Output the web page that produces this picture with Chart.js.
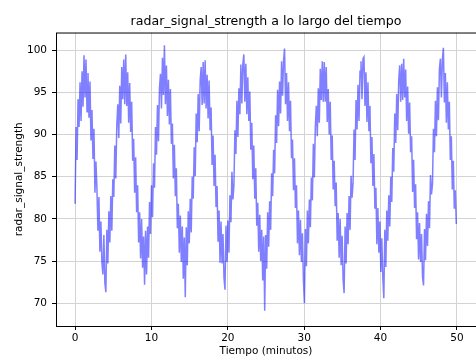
<!DOCTYPE html>
<html>
<head>
<meta charset="utf-8">
<script src="https://cdn.jsdelivr.net/npm/chart.js@4.4.1/dist/chart.umd.min.js"></script>
<style>
  html, body { margin: 0; padding: 0; background: #fff; }
  #wrap { width: 476px; height: 356px; }
</style>
</head>
<body>
<div id="wrap"><canvas id="chart" width="476" height="356"></canvas></div>
<script>
// sample spacing in minutes
const STEP = 0.13;

// radar signal strength, one value per sample
const signal = [
  81.8, 90.9, 87.0, 94.2, 90.9, 96.2, 91.6, 97.5, 93.3, 99.4,
  94.4, 98.9, 92.7, 97.3, 92.0, 96.3, 89.3, 92.9, 87.1, 90.7,
  83.1, 86.8, 83.6, 78.6, 82.6, 76.1, 79.7, 74.9, 73.4, 78.1,
  72.4, 71.3, 78.7, 74.7, 80.9, 77.2, 82.7, 78.6, 84.7, 82.6,
  88.7, 84.8, 91.0, 93.6, 89.6, 95.8, 91.3, 98.0, 94.2, 98.9,
  93.6, 99.5, 93.4, 97.4, 91.4, 96.1, 90.3, 93.9, 86.9, 89.5,
  83.1, 87.3, 80.8, 84.0, 77.2, 80.8, 75.3, 80.0, 74.2, 77.9,
  72.2, 78.6, 73.4, 79.1, 75.4, 82.0, 78.2, 84.0, 80.2, 86.6,
  83.7, 90.9, 87.6, 93.5, 89.2, 95.5, 97.2, 93.1, 99.1, 94.7,
  100.6, 93.6, 98.2, 92.2, 96.5, 91.2, 95.4, 88.9, 91.3, 84.8,
  88.8, 82.7, 86.0, 78.9, 81.8, 76.0, 80.4, 74.9, 79.1, 72.9,
  77.8, 70.7, 79.0, 74.5, 80.9, 77.1, 82.4, 78.4, 85.0, 82.4,
  88.5, 85.1, 92.5, 89.1, 94.8, 90.4, 96.4, 98.0, 93.5, 98.6,
  93.7, 98.8, 93.1, 97.1, 91.9, 96.4, 90.5, 93.2, 86.4, 89.9,
  83.9, 87.6, 81.4, 83.9, 77.3, 81.0, 74.8, 79.7, 74.7, 78.2,
  73.0, 71.6, 79.2, 74.9, 79.8, 76.0, 82.8, 79.6, 85.6, 82.3,
  84.0, 90.5, 87.7, 94.0, 89.7, 95.5, 92.4, 98.3, 93.7, 98.4,
  99.5, 93.9, 98.4, 92.4, 96.8, 91.6, 95.1, 88.2, 91.4, 84.7,
  88.7, 82.4, 86.0, 79.2, 81.9, 76.1, 80.5, 75.0, 78.7, 72.7,
  77.9, 69.1, 78.1, 74.1, 80.8, 76.7, 82.1, 78.7, 85.4, 82.7,
  88.2, 85.4, 92.3, 89.0, 95.3, 91.0, 96.3, 92.5, 98.7, 94.6,
  98.8, 100.2, 93.6, 97.3, 91.6, 96.2, 90.4, 94.0, 87.2, 89.4,
  83.4, 87.2, 81.3, 84.0, 77.1, 81.0, 75.7, 79.9, 74.9, 78.3,
  72.7, 70.0, 78.8, 74.4, 81.0, 77.1, 82.3, 79.0, 84.9, 82.2,
  88.9, 84.9, 90.9, 93.4, 89.8, 95.5, 91.4, 97.8, 94.1, 98.7,
  93.9, 98.6, 93.9, 98.0, 91.5, 95.4, 90.0, 93.9, 87.0, 89.9,
  83.5, 86.9, 81.5, 84.3, 77.4, 80.7, 75.4, 80.0, 74.5, 78.0,
  72.8, 71.2, 79.1, 74.7, 80.7, 77.0, 82.7, 78.7, 85.1, 82.5,
  84.3, 90.6, 87.0, 94.1, 90.6, 95.9, 91.6, 97.5, 98.7, 94.2,
  99.0, 99.2, 93.4, 97.4, 91.5, 96.2, 90.4, 93.4, 86.6, 89.7,
  83.9, 87.7, 81.2, 83.7, 77.0, 81.3, 76.0, 79.7, 73.7, 77.7,
  73.0, 70.6, 78.7, 74.3, 81.0, 77.4, 82.8, 79.1, 85.0, 82.0,
  88.4, 85.6, 92.5, 89.0, 94.8, 90.5, 96.4, 98.2, 93.9, 98.4,
  94.1, 99.0, 94.4, 97.7, 91.6, 95.7, 90.1, 93.8, 87.9, 89.8,
  83.2, 87.0, 81.3, 84.1, 77.6, 80.8, 75.2, 79.5, 74.9, 78.2,
  73.1, 72.1, 78.8, 75.1, 80.6, 76.8, 82.1, 78.9, 85.2, 82.9,
  84.1, 90.7, 87.9, 94.0, 89.8, 95.6, 91.7, 97.8, 99.0, 94.4,
  98.9, 100.3, 93.8, 97.3, 91.4, 96.2, 90.6, 93.9, 87.0, 89.8,
  83.5, 86.9, 81.2, 83.4, 79.4
];

const minutes = signal.map((_, i) => +(i * STEP).toFixed(2));

const xTicks = [0, 10, 20, 30, 40, 50];
const yTicks = [70, 75, 80, 85, 90, 95, 100];

const FONT = 'DejaVu Sans';

// matplotlib style frame around the plot area
const framePlugin = {
  id: 'frame',
  afterDraw(chart) {
    const { ctx, chartArea: a } = chart;
    ctx.save();
    ctx.strokeStyle = '#000';
    ctx.lineWidth = 1;
    ctx.strokeRect(a.left + 0.5, a.top + 0.5, a.right - a.left, a.bottom - a.top);
    ctx.restore();
  }
};

new Chart(document.getElementById('chart'), {
  type: 'line',
  data: {
    datasets: [{
      label: 'radar_signal_strength',
      data: minutes.map((m, i) => ({ x: m, y: signal[i] })),
      borderColor: 'rgba(0,0,255,0.5)',
      borderWidth: 1.5,
      pointRadius: 0,
      tension: 0,
      fill: false
    }]
  },
  options: {
    responsive: false,
    animation: false,
    events: [],
    layout: { padding: { left: 0, right: -1, top: 0, bottom: -2 } },
    plugins: {
      legend: { display: false },
      tooltip: { enabled: false },
      title: {
        display: true,
        text: 'radar_signal_strength a lo largo del tiempo',
        fullSize: false,
        color: '#000',
        font: { family: FONT, size: 12.6, weight: 'normal' },
        padding: { top: 14, bottom: 3.4 }
      }
    },
    scales: {
      x: {
        type: 'linear',
        min: -2.5,
        max: 52.5,
        afterBuildTicks: axis => { axis.ticks = xTicks.map(v => ({ value: v })); },
        afterFit: axis => { axis.height = 32; },
        grid: { color: '#d3d3d3', lineWidth: 1, tickColor: '#000', tickLength: 4, drawTicks: true },
        border: { display: false },
        ticks: { color: '#000', font: { family: FONT, size: 10.5 }, padding: 2, maxRotation: 0 },
        title: {
          display: true,
          text: 'Tiempo (minutos)',
          color: '#000',
          font: { family: FONT, size: 10.5 },
          padding: { top: 0, bottom: 0 }
        }
      },
      y: {
        min: 67.3,
        max: 102.1,
        afterBuildTicks: axis => { axis.ticks = yTicks.map(v => ({ value: v })); },
        afterFit: axis => { axis.width = 56; },
        grid: { color: '#d3d3d3', lineWidth: 1, tickColor: '#000', tickLength: 4, drawTicks: true },
        border: { display: false },
        ticks: { color: '#000', font: { family: FONT, size: 10.5 }, padding: 5 },
        title: {
          display: true,
          text: 'radar_signal_strength',
          color: '#000',
          font: { family: FONT, size: 10.5 },
          padding: { top: 13, bottom: 0 }
        }
      }
    }
  },
  plugins: [framePlugin]
});
</script>
</body>
</html>
